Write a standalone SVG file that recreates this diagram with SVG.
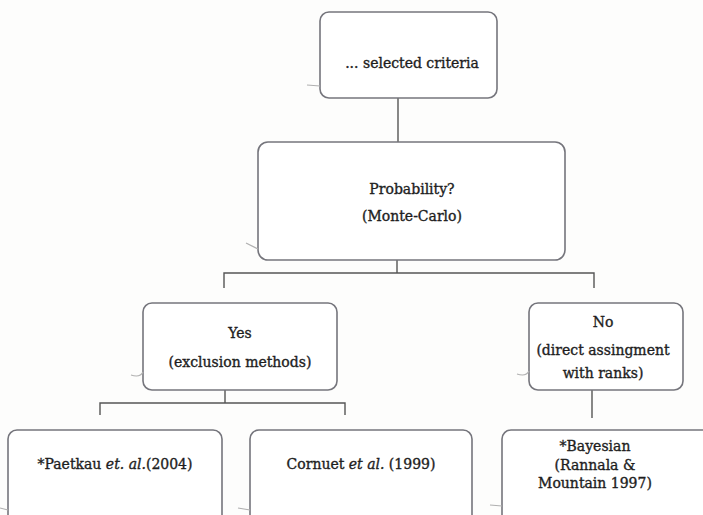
<svg xmlns="http://www.w3.org/2000/svg" width="703" height="515" viewBox="0 0 703 515">
<defs>
<style>
.box{fill:#ffffff;stroke:#75757c;stroke-width:1.6}
.t{font-family:"DejaVu Serif","Liberation Serif",serif;font-size:14px;fill:#1e1e1e;stroke:#1e1e1e;stroke-width:0.35;text-anchor:middle}
.it{font-style:italic}
.c{fill:none;stroke:#555;stroke-width:1.4}
.h{fill:none;stroke:#b0b0b0;stroke-width:1.2}
</style>
</defs>
<rect width="703" height="515" fill="#fdfdfc"/>
<g id="connectors">
<path class="c" d="M398 98V142"/>
<path class="c" d="M397 260V273M224 288V273H594V288"/>
<path class="c" d="M225 390V403M100 415V403H345V415"/>
<path class="c" d="M592 390V418"/>
</g>
<g id="node-criteria">
<rect class="box" x="320" y="12" width="177" height="86" rx="9"/>
<path class="h" d="M307 85L320 86"/>
<text class="t" x="412" y="68">... selected criteria</text>
</g>
<g id="node-probability">
<rect class="box" x="258" y="142" width="307" height="118" rx="10"/>
<path class="h" d="M246 243L258 249"/>
<text class="t" x="412" y="194">Probability?</text>
<text class="t" x="412" y="221">(Monte-Carlo)</text>
</g>
<g id="node-yes">
<rect class="box" x="143" y="303" width="194" height="87" rx="9"/>
<path class="h" d="M131 375Q140 378 143 372"/>
<text class="t" x="240" y="338">Yes</text>
<text class="t" x="240" y="367">(exclusion methods)</text>
</g>
<g id="node-no">
<rect class="box" x="529" y="303" width="154" height="87" rx="9"/>
<path class="h" d="M517 374Q526 377 529 371"/>
<text class="t" x="603" y="327">No</text>
<text class="t" x="603" y="355">(direct assingment</text>
<text class="t" x="603" y="378">with ranks)</text>
</g>
<g id="node-paetkau">
<rect class="box" x="8" y="430" width="214" height="100" rx="9"/>
<path class="h" d="M0 508L8 510"/>
<text class="t" x="115" y="469">*Paetkau <tspan class="it">et. al.</tspan>(2004)</text>
</g>
<g id="node-cornuet">
<rect class="box" x="250" y="430" width="222" height="100" rx="9"/>
<path class="h" d="M238 508L250 510"/>
<text class="t" x="361" y="469">Cornuet <tspan class="it">et al.</tspan> (1999)</text>
</g>
<g id="node-bayesian">
<rect class="box" x="502" y="430" width="215" height="100" rx="9"/>
<path class="h" d="M490 505L502 506"/>
<text class="t" x="595" y="451">*Bayesian</text>
<text class="t" x="595" y="470">(Rannala &amp;</text>
<text class="t" x="595" y="488">Mountain 1997)</text>
</g>
</svg>
